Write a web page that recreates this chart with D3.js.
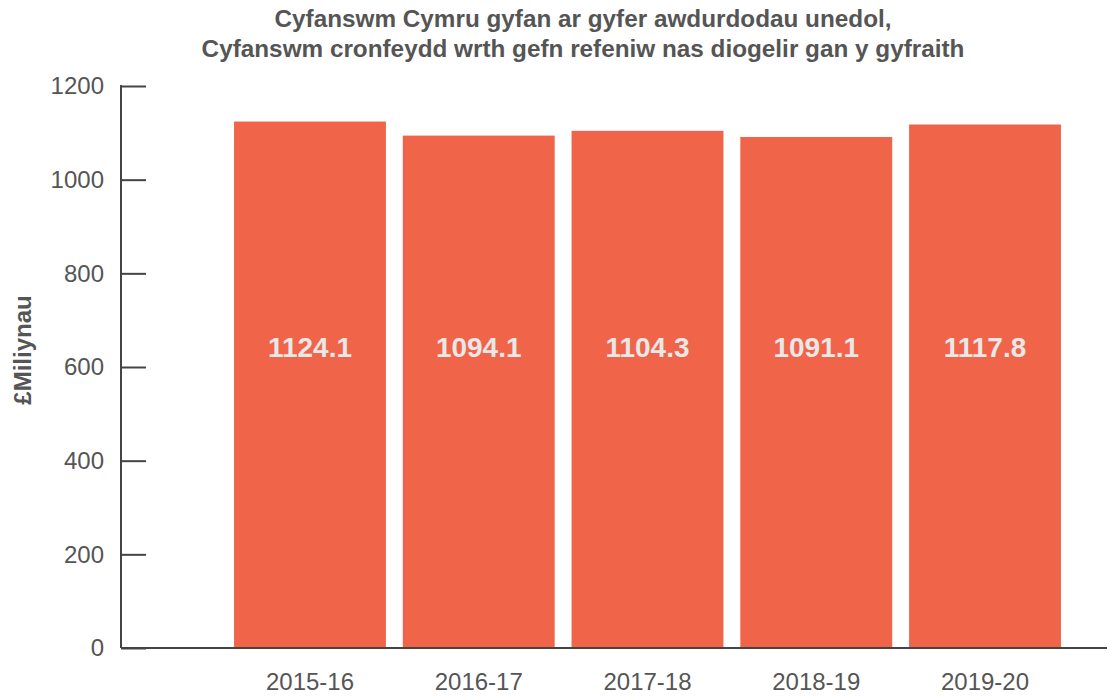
<!DOCTYPE html>
<html>
<head>
<meta charset="utf-8">
<script src="https://cdn.jsdelivr.net/npm/d3@7"></script>
<style>
  body { margin: 0; background: #fff; }
  svg { font-family: "Liberation Sans", Arial, sans-serif; }
</style>
</head>
<body>
<div id="chart"></div>
<script>
const years = ['2015-16', '2016-17', '2017-18', '2018-19', '2019-20'];
const values = [1124.1, 1094.1, 1104.3, 1091.1, 1117.8];
const yTicks = [0, 200, 400, 600, 800, 1000, 1200];
const titleLines = [
  'Cyfanswm Cymru gyfan ar gyfer awdurdodau unedol,',
  'Cyfanswm cronfeydd wrth gefn refeniw nas diogelir gan y gyfraith'
];
const yLabel = '£Miliynau';

const width = 1109;
const height = 696;
const axisLeft = 121;
const axisRight = 1107;
const plotTop = 86;
const plotBottom = 648;
const textColor = '#555';

const svg = d3.select('#chart').append('svg')
  .attr('width', width)
  .attr('height', height);

// Scales
const x = d3.scaleBand()
  .domain(years)
  .range([225.6, 1069.4])
  .paddingInner(0.1)
  .paddingOuter(0.05);

const y = d3.scaleLinear()
  .domain([0, 1200])
  .range([plotBottom, plotTop]);

// Title
svg.append('text')
  .attr('y', 27)
  .attr('text-anchor', 'middle')
  .attr('font-size', 24.3)
  .attr('font-weight', 'bold')
  .attr('fill', textColor)
  .selectAll('tspan')
  .data(titleLines)
  .join('tspan')
  .attr('x', 583)
  .attr('dy', (d, i) => i === 0 ? 0 : 30)
  .text(d => d);

// Bars
svg.append('g')
  .selectAll('rect')
  .data(values)
  .join('rect')
  .attr('x', (d, i) => x(years[i]))
  .attr('y', d => y(d))
  .attr('width', x.bandwidth())
  .attr('height', d => y(0) - y(d))
  .attr('fill', '#F0654A');

// Value labels
svg.append('g')
  .selectAll('text')
  .data(values)
  .join('text')
  .attr('x', (d, i) => x(years[i]) + x.bandwidth() / 2)
  .attr('y', 357)
  .attr('text-anchor', 'middle')
  .attr('font-size', 28)
  .attr('font-weight', 'bold')
  .attr('fill', '#e8e8e8')
  .text(d => d.toFixed(1));

// Y axis (ticks pointing inward)
const yAxis = svg.append('g')
  .attr('transform', `translate(${axisLeft},0)`)
  .call(d3.axisRight(y).tickValues(yTicks).tickSize(25).tickFormat(''));
yAxis.select('.domain').remove();
yAxis.selectAll('line').attr('stroke', '#444').attr('stroke-width', 2);

svg.append('line')
  .attr('x1', axisLeft).attr('x2', axisLeft)
  .attr('y1', plotTop - 1).attr('y2', plotBottom)
  .attr('stroke', '#444').attr('stroke-width', 2);

svg.append('g')
  .selectAll('text')
  .data(yTicks)
  .join('text')
  .attr('x', 104)
  .attr('y', d => y(d))
  .attr('dy', '0.35em')
  .attr('text-anchor', 'end')
  .attr('font-size', 24)
  .attr('fill', textColor)
  .text(d => d);

// X axis
svg.append('line')
  .attr('x1', axisLeft).attr('x2', axisRight)
  .attr('y1', plotBottom).attr('y2', plotBottom)
  .attr('stroke', '#444').attr('stroke-width', 2);

svg.append('g')
  .selectAll('text')
  .data(years)
  .join('text')
  .attr('x', d => x(d) + x.bandwidth() / 2)
  .attr('y', 690)
  .attr('text-anchor', 'middle')
  .attr('font-size', 24)
  .attr('fill', textColor)
  .text(d => d);

// Y axis title
svg.append('text')
  .attr('transform', 'translate(31,350) rotate(-90)')
  .attr('text-anchor', 'middle')
  .attr('font-size', 24)
  .attr('font-weight', 'bold')
  .attr('fill', textColor)
  .text(yLabel);
</script>
</body>
</html>
